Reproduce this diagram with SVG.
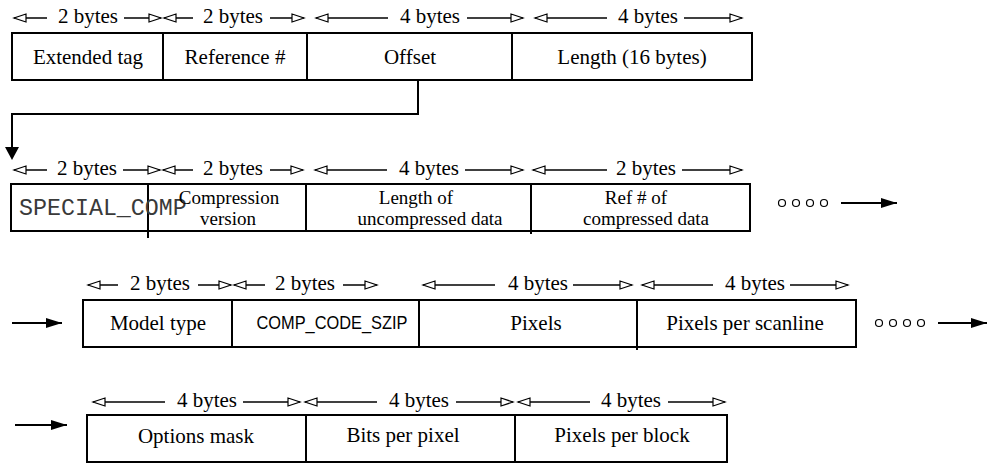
<svg xmlns="http://www.w3.org/2000/svg" width="989" height="464" viewBox="0 0 989 464">
<style>
.box{fill:#fff;stroke:#000;stroke-width:2}
.div{stroke:#000;stroke-width:2;fill:none}
.t{font-family:"Liberation Serif","Times New Roman",serif;font-size:21px;fill:#000;text-anchor:middle}
.t2{font-family:"Liberation Serif","Times New Roman",serif;font-size:19px;fill:#000;text-anchor:middle}
.dim{stroke:#000;stroke-width:1.5;fill:none}
.dl{marker-start:url(#oh)}
.dr{marker-end:url(#oh)}
.conn{stroke:#000;stroke-width:2;fill:none}
.dot{fill:#fff;stroke:#000;stroke-width:1.2}
</style>
<defs>
<marker id="oh" markerUnits="userSpaceOnUse" markerWidth="14" markerHeight="10" refX="12" refY="4.5" orient="auto-start-reverse" overflow="visible">
<path d="M0,0.5 L12,4.5 L0,8.5 z" fill="#fff" stroke="#000" stroke-width="1.2"/>
</marker>
<marker id="fh" markerUnits="userSpaceOnUse" markerWidth="18" markerHeight="10" refX="16" refY="5" orient="auto" overflow="visible">
<path d="M0,0 L16,5 L0,10 z" fill="#000"/>
</marker>
</defs>

<!-- Row 1 -->
<g id="row1">
<rect class="box" x="12" y="33" width="740" height="47"/>
<line class="div" x1="163" y1="33" x2="163" y2="80"/>
<line class="div" x1="307" y1="33" x2="307" y2="80"/>
<line class="div" x1="512" y1="33" x2="512" y2="80"/>
</g>
<g id="extended-tag"><text class="t" x="88" y="64">Extended tag</text></g>
<g id="reference"><text class="t" x="235" y="64">Reference #</text></g>
<g id="offset"><text class="t" x="410" y="64">Offset</text></g>
<g id="length"><text class="t" x="632" y="64">Length (16 bytes)</text></g>
<g id="row1-bytes">
<line class="dim dl" x1="14" y1="18" x2="47" y2="18"/><text class="t" x="88" y="23">2 bytes</text><line class="dim dr" x1="124" y1="18" x2="161" y2="18"/>
<line class="dim dl" x1="164" y1="18" x2="193" y2="18"/><text class="t" x="233" y="23">2 bytes</text><line class="dim dr" x1="270" y1="18" x2="304" y2="18"/>
<line class="dim dl" x1="316" y1="18" x2="388" y2="18"/><text class="t" x="430" y="23">4 bytes</text><line class="dim dr" x1="467" y1="18" x2="523" y2="18"/>
<line class="dim dl" x1="535" y1="18" x2="607" y2="18"/><text class="t" x="648" y="23">4 bytes</text><line class="dim dr" x1="684" y1="18" x2="742" y2="18"/>
</g>

<!-- Row 2 -->
<g id="row2">
<rect class="box" x="11" y="184" width="739" height="47"/>
<line class="div" x1="148" y1="184" x2="148" y2="238"/>
<line class="div" x1="306" y1="184" x2="306" y2="231"/>
<line class="div" x1="531" y1="184" x2="531" y2="234"/>
</g>
<g id="special-comp"><text x="19" y="215" font-family="'Liberation Mono','Courier New',monospace" font-size="23.3" fill="#3a3a3a">SPECIAL_COMP</text></g>
<g id="comp-version"><text class="t2" x="229" y="204">Compression</text><text class="t2" x="228" y="225">version</text></g>
<g id="len-uncomp"><text class="t2" x="416" y="204">Length of</text><text class="t2" x="430" y="225">uncompressed data</text></g>
<g id="ref-comp"><text class="t2" x="636" y="204">Ref # of</text><text class="t2" x="646" y="225">compressed data</text></g>
<g id="row2-bytes">
<line class="dim dl" x1="14" y1="170" x2="47" y2="170"/><text class="t" x="87" y="175">2 bytes</text><line class="dim dr" x1="123" y1="170" x2="160" y2="170"/>
<line class="dim dl" x1="163" y1="170" x2="193" y2="170"/><text class="t" x="233" y="175">2 bytes</text><line class="dim dr" x1="270" y1="170" x2="303" y2="170"/>
<line class="dim dl" x1="315" y1="170" x2="387" y2="170"/><text class="t" x="429" y="175">4 bytes</text><line class="dim dr" x1="465" y1="170" x2="523" y2="170"/>
<line class="dim dl" x1="533" y1="170" x2="607" y2="170"/><text class="t" x="646" y="175">2 bytes</text><line class="dim dr" x1="682" y1="170" x2="742" y2="170"/>
</g>
<g id="row2-more">
<circle class="dot" cx="782" cy="203" r="3.5"/><circle class="dot" cx="796" cy="203" r="3.5"/><circle class="dot" cx="810" cy="203" r="3.5"/><circle class="dot" cx="824" cy="203" r="3.5"/>
</g>

<!-- Row 3 -->
<g id="row3">
<rect class="box" x="83" y="300" width="773" height="47"/>
<line class="div" x1="232" y1="300" x2="232" y2="347"/>
<line class="div" x1="419" y1="300" x2="419" y2="347"/>
<line class="div" x1="637" y1="300" x2="637" y2="350"/>
</g>
<g id="model-type"><text class="t" x="158" y="330">Model type</text></g>
<g id="comp-code-szip"><text x="332" y="329" font-family="'Liberation Sans',Arial,sans-serif" font-size="19" text-anchor="middle" textLength="151" lengthAdjust="spacingAndGlyphs" fill="#000">COMP_CODE_SZIP</text></g>
<g id="pixels"><text class="t" x="536" y="330">Pixels</text></g>
<g id="pixels-scanline"><text class="t" x="745" y="330">Pixels per scanline</text></g>
<g id="row3-bytes">
<line class="dim dl" x1="88" y1="285" x2="118" y2="285"/><text class="t" x="160" y="290">2 bytes</text><line class="dim dr" x1="198" y1="285" x2="231" y2="285"/>
<line class="dim dl" x1="234" y1="285" x2="265" y2="285"/><text class="t" x="305" y="290">2 bytes</text><line class="dim dr" x1="343" y1="285" x2="377" y2="285"/>
<line class="dim dl" x1="423" y1="285" x2="495" y2="285"/><text class="t" x="538" y="290">4 bytes</text><line class="dim dr" x1="573" y1="285" x2="632" y2="285"/>
<line class="dim dl" x1="642" y1="285" x2="713" y2="285"/><text class="t" x="755" y="290">4 bytes</text><line class="dim dr" x1="790" y1="285" x2="848" y2="285"/>
</g>
<g id="row3-more">
<circle class="dot" cx="879" cy="323" r="3.5"/><circle class="dot" cx="893" cy="323" r="3.5"/><circle class="dot" cx="907" cy="323" r="3.5"/><circle class="dot" cx="921" cy="323" r="3.5"/>
</g>

<!-- Row 4 -->
<g id="row4">
<rect class="box" x="87" y="415" width="640" height="47"/>
<line class="div" x1="306" y1="415" x2="306" y2="462"/>
<line class="div" x1="515" y1="415" x2="515" y2="462"/>
</g>
<g id="options-mask"><text class="t" x="196" y="443">Options mask</text></g>
<g id="bits-pixel"><text class="t" x="403" y="442">Bits per pixel</text></g>
<g id="pixels-block"><text class="t" x="622" y="442">Pixels per block</text></g>
<g id="row4-bytes">
<line class="dim dl" x1="93" y1="402" x2="165" y2="402"/><text class="t" x="207" y="407">4 bytes</text><line class="dim dr" x1="243" y1="402" x2="300" y2="402"/>
<line class="dim dl" x1="305" y1="402" x2="377" y2="402"/><text class="t" x="419" y="407">4 bytes</text><line class="dim dr" x1="456" y1="402" x2="513" y2="402"/>
<line class="dim dl" x1="518" y1="402" x2="590" y2="402"/><text class="t" x="631" y="407">4 bytes</text><line class="dim dr" x1="668" y1="402" x2="725" y2="402"/>
</g>

<!-- Connectors -->
<g id="connectors">
<polyline class="conn" points="418,80 418,114 12,114 12,148"/>
<path d="M5,147 L19,147 L12,160 z" fill="#000"/>
<line class="conn" x1="841" y1="203" x2="897" y2="203" marker-end="url(#fh)"/>
<line class="conn" x1="12" y1="323" x2="62" y2="323" marker-end="url(#fh)"/>
<line class="conn" x1="938" y1="323" x2="987" y2="323" marker-end="url(#fh)"/>
<line class="conn" x1="15" y1="425" x2="67" y2="425" marker-end="url(#fh)"/>
</g>
</svg>
